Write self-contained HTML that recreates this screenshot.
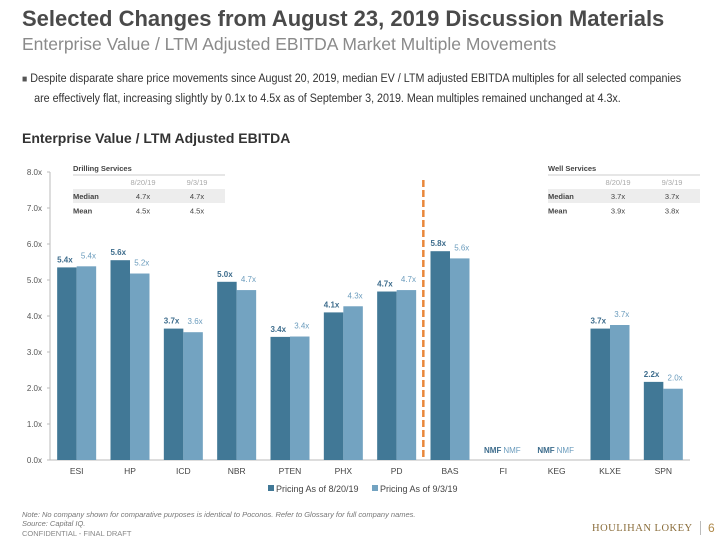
<!DOCTYPE html>
<html><head><meta charset="utf-8"><style>
body{margin:0;width:720px;height:540px;background:#fff;font-family:"Liberation Sans",Arial,sans-serif;position:relative;overflow:hidden}
.a{position:absolute;white-space:nowrap}
</style></head><body>
<div class="a" style="left:22px;top:6px;font-size:22px;font-weight:bold;color:#4a4a4a">Selected Changes from August 23, 2019 Discussion Materials</div>
<div class="a" style="left:22px;top:34px;font-size:17.5px;color:#8a8a8a">Enterprise Value / LTM Adjusted EBITDA Market Multiple Movements</div>
<div class="a" style="left:22px;top:69px;font-size:12.4px;color:#333;line-height:18px;transform:scaleX(0.865);transform-origin:0 0"><span style="color:#555;font-size:10px">■</span> Despite disparate share price movements since August 20, 2019, median EV / LTM adjusted EBITDA multiples for all selected companies<br><span style="padding-left:14px">are effectively flat, increasing slightly by 0.1x to 4.5x as of September 3, 2019. Mean multiples remained unchanged at 4.3x.</span></div>
<div class="a" style="left:22px;top:130px;font-size:14px;font-weight:bold;color:#333">Enterprise Value / LTM Adjusted EBITDA</div>
<svg class="a" style="left:0;top:0" width="720" height="540" id="chart"></svg>
<div class="a" style="left:22px;top:510px;font-size:7.5px;font-style:italic;color:#777">Note: No company shown for comparative purposes is identical to Poconos. Refer to Glossary for full company names.</div>
<div class="a" style="left:22px;top:519px;font-size:7.5px;font-style:italic;color:#777">Source: Capital IQ.</div>
<div class="a" style="left:22px;top:529px;font-size:7.5px;color:#888">CONFIDENTIAL - FINAL DRAFT</div>
<div class="a" style="left:592px;top:523px;font-size:10.5px;font-family:'Liberation Serif',serif;color:#8a6d3b;letter-spacing:0.5px">HOULIHAN LOKEY</div>
<div class="a" style="left:700px;top:521px;font-size:12px;color:#b08a4a;border-left:1px solid #bbb;padding-left:7px">6</div>
<script>
const categories=["ESI","HP","ICD","NBR","PTEN","PHX","PD","BAS","FI","KEG","KLXE","SPN"];
const series1=[5.35,5.55,3.65,4.95,3.42,4.1,4.68,5.8,null,null,3.65,2.17];
const series2=[5.38,5.18,3.55,4.72,3.43,4.27,4.72,5.6,null,null,3.75,1.98];
const labels1=["5.4x","5.6x","3.7x","5.0x","3.4x","4.1x","4.7x","5.8x","NMF","NMF","3.7x","2.2x"];
const labels2=["5.4x","5.2x","3.6x","4.7x","3.4x","4.3x","4.7x","5.6x","NMF","NMF","3.7x","2.0x"];
const yTicks=[0,1,2,3,4,5,6,7,8];
const NS="http://www.w3.org/2000/svg",svg=document.getElementById('chart');
const x0=50,x1=690,yb=460,pu=36,cw=(x1-x0)/categories.length,bw=19.5;
const y=v=>yb-v*pu,xc=i=>x0+cw*(i+0.5);
function el(t,a,txt){const e=document.createElementNS(NS,t);for(const k in a)e.setAttribute(k,a[k]);if(txt!=null)e.textContent=txt;svg.appendChild(e);return e;}
let e=el('line',{x1:x0,y1:y(8),x2:x0,y2:yb,stroke:'#bbb'});

e=el('line',{x1:x0,y1:yb,x2:x1,y2:yb,stroke:'#bbb'});

yTicks.forEach(t=>{
 e=el('text',{x:x0-8,y:y(t)+3,'text-anchor':'end','font-size':8,fill:'#555'},t.toFixed(1)+'x');
 
 e=el('line',{x1:x0-3,y1:y(t),x2:x0,y2:y(t),stroke:'#bbb'});
 
});
categories.forEach((c,i)=>{
 const cx=xc(i);
 e=el('text',{x:cx,y:yb+14,'text-anchor':'middle','font-size':8.5,fill:'#444'},c);
 
 if(series1[i]!=null){
  e=el('rect',{x:cx-bw,y:y(series1[i]),width:bw,height:series1[i]*pu,fill:'#417896'});
  
  e=el('text',{x:cx-bw/2-2,y:y(series1[i])-5,'text-anchor':'middle','font-size':8,'font-weight':'bold',fill:'#3d6c8c'},labels1[i]);
  
 }else{
  e=el('text',{x:cx-2,y:yb-7,'text-anchor':'end','font-size':8,'font-weight':'bold',fill:'#3d6c8c'},labels1[i]);
  
 }
 if(series2[i]!=null){
  e=el('rect',{x:cx,y:y(series2[i]),width:bw,height:series2[i]*pu,fill:'#73a3c1'});
  
  e=el('text',{x:cx+bw/2+2,y:y(series2[i])-8,'text-anchor':'middle','font-size':8,fill:'#6b9cbd'},labels2[i]);
  
 }else{
  e=el('text',{x:cx,y:yb-7,'text-anchor':'start','font-size':8,fill:'#6b9cbd'},labels2[i]);
  
 }
});
e=el('line',{x1:x0+cw*7,y1:180,x2:x0+cw*7,y2:yb,stroke:'#e8873a','stroke-width':2.5,'stroke-dasharray':'7,3'});

function table(x,title,rows,name){
 e=el('text',{x:x,y:171,'font-size':7.5,'font-weight':'bold',fill:'#444'},title);
 
 e=el('line',{x1:x,y1:175,x2:x+152,y2:175,stroke:'#ccc'});
 
 e=el('text',{x:x+70,y:185,'text-anchor':'middle','font-size':7.5,fill:'#aaa'},'8/20/19');
 
 e=el('text',{x:x+124,y:185,'text-anchor':'middle','font-size':7.5,fill:'#aaa'},'9/3/19');
 
 e=el('rect',{x:x,y:189,width:152,height:14,fill:'#ededed'});
 
 rows.forEach((r,j)=>{
  const yy=199+j*14.5;
  e=el('text',{x:x,y:yy,'font-size':7.5,'font-weight':'bold',fill:'#444'},r[0]);
  
  e=el('text',{x:x+70,y:yy,'text-anchor':'middle','font-size':7.5,fill:'#444'},r[1]);
  
  e=el('text',{x:x+124,y:yy,'text-anchor':'middle','font-size':7.5,fill:'#444'},r[2]);
  
 });
}
table(73,'Drilling Services',[["Median","4.7x","4.7x"],["Mean","4.5x","4.5x"]],'drilling-table');
table(548,'Well Services',[["Median","3.7x","3.7x"],["Mean","3.9x","3.8x"]],'well-table');
e=el('rect',{x:268,y:485,width:6,height:6,fill:'#417896'});

e=el('text',{x:276,y:492,'font-size':9,fill:'#444'},'Pricing As of 8/20/19');

e=el('rect',{x:372,y:485,width:6,height:6,fill:'#73a3c1'});

e=el('text',{x:380,y:492,'font-size':9,fill:'#444'},'Pricing As of 9/3/19');

</script>
</body></html>
